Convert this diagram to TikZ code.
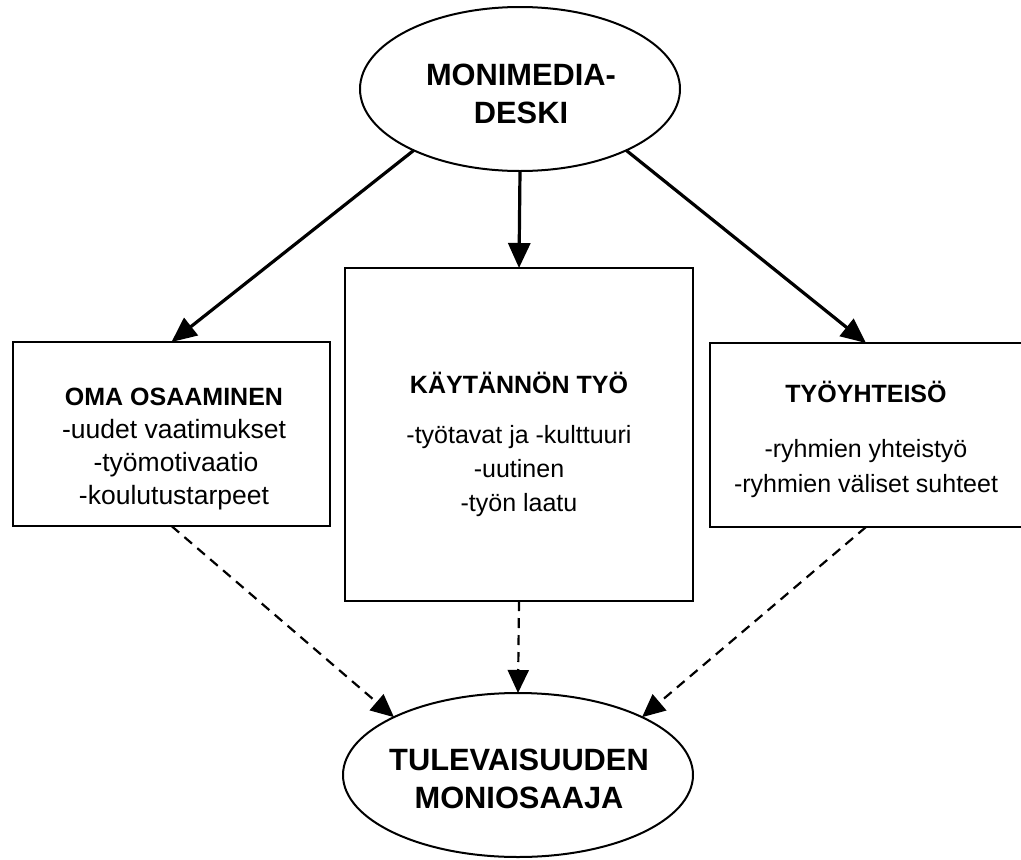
\documentclass[tikz,border=0pt]{standalone}
\usepackage{fontspec}
\setmainfont{Liberation Sans}
\usetikzlibrary{shapes.geometric,arrows.meta}
\begin{document}
\begin{tikzpicture}[x=1pt,y=-1pt,
  box/.style={draw,line width=2pt,rectangle,inner sep=0pt,outer sep=0pt},
  oval/.style={draw,line width=2pt,ellipse,inner sep=0pt,outer sep=0pt},
  big/.style={font=\fontsize{30.8}{36}\selectfont\bfseries,anchor=base,inner sep=0pt},
  ttl/.style={font=\fontsize{25}{30}\selectfont\bfseries,anchor=base,inner sep=0pt},
  txt/.style={font=\fontsize{25}{30}\selectfont,anchor=base,inner sep=0pt},
  wtxt/.style={font=\fontsize{26.5}{30}\selectfont,anchor=base,inner sep=0pt},
  solidarrow/.style={line width=3.2pt,-{Triangle[length=25pt,width=22pt]}},
  dasharrow/.style={line width=2.2pt,dash pattern=on 10pt off 7pt,-{Triangle[length=23pt,width=21pt]}},
]
\useasboundingbox (0,0) rectangle (1021,860);
\fill[white] (0,0) rectangle (1021,860);

% shapes
\node[oval,minimum width=320pt,minimum height=164pt] (top) at (520,89) {};
\node[box,minimum width=317pt,minimum height=184pt] (left) at (171.5,434) {};
\node[box,minimum width=348pt,minimum height=333pt] (mid) at (519,434.5) {};
\node[box,minimum width=312pt,minimum height=184pt] (right) at (866,435) {};
\node[oval,minimum width=350pt,minimum height=164pt] (bot) at (518,775) {};

% texts
\node[big] (topA) at (521,85) {MONIMEDIA-};
\node[big] (topB) at (521,123) {DESKI};

\node[ttl] (lt) at (174,405) {OMA OSAAMINEN};
\node[wtxt] (l1) at (174,438) {-uudet vaatimukset};
\node[wtxt] (l2) at (176,471) {-työmotivaatio};
\node[wtxt] (l3) at (174,504) {-koulutustarpeet};

\node[ttl] (mt) at (519,393) {KÄYTÄNNÖN TYÖ};
\node[txt] (m1) at (519,443) {-työtavat ja -kulttuuri};
\node[txt] (m2) at (519,477) {-uutinen};
\node[txt] (m3) at (519,511) {-työn laatu};

\node[ttl] (rt) at (866,402) {TYÖYHTEISÖ};
\node[txt] (r1) at (866,457) {-ryhmien yhteistyö};
\node[txt] (r2) at (866,492) {-ryhmien väliset suhteet};

\node[big] (botA) at (519,770) {TULEVAISUUDEN};
\node[big] (botB) at (519,808) {MONIOSAAJA};

% connectors
\draw[solidarrow] (top.-150) -- (left.north);
\draw[solidarrow] (top.south) -- (mid.north);
\draw[solidarrow] (top.-30) -- (right.north);

\draw[dasharrow] (left.south) -- (bot.155);
\draw[dasharrow] (mid.south) -- (bot.north);
\draw[dasharrow] (right.south) -- (bot.25);
\end{tikzpicture}
\end{document}
